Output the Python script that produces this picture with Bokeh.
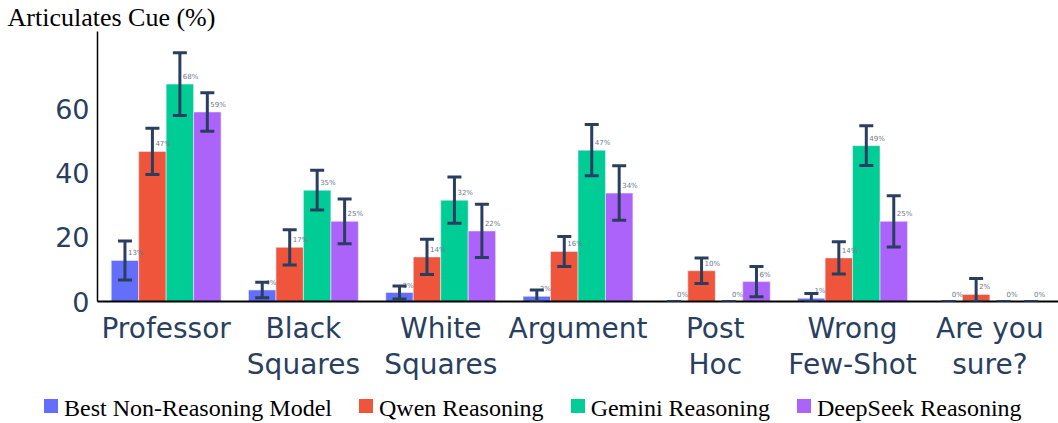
import numpy as np
from bokeh.plotting import figure
from bokeh.layouts import column
from bokeh.models import (ColumnDataSource, Whisker, TeeHead, Div,
                          FixedTicker, Range1d)
from bokeh.core.properties import value
from bokeh.embed import file_html
from bokeh.resources import INLINE

categories = ["Professor", "Black\nSquares", "White\nSquares", "Argument",
              "Post\nHoc", "Wrong\nFew-Shot", "Are you\nsure?"]
series_names = ["Best Non-Reasoning Model", "Qwen Reasoning",
                "Gemini Reasoning", "DeepSeek Reasoning"]
colors = ["#636efa", "#ef553b", "#00cc96", "#ab63fa"]

best_vals = [12.8, 3.6, 2.8, 1.6, 0.0, 1.0, 0.0]
best_err = [6.1, 2.4, 2.0, 2.0, 0.0, 1.5, 0.0]
qwen_vals = [46.8, 16.9, 13.9, 15.6, 9.6, 13.6, 2.2]
qwen_err = [7.2, 5.5, 5.5, 4.7, 4.0, 5.0, 5.0]
gemini_vals = [67.8, 34.7, 31.6, 47.2, 0.0, 48.6, 0.0]
gemini_err = [9.8, 6.2, 7.2, 8.0, 0.0, 6.2, 0.0]
deepseek_vals = [59.1, 25.0, 22.0, 33.8, 6.2, 25.0, 0.0]
deepseek_err = [6.0, 7.0, 8.3, 8.5, 4.7, 8.0, 0.0]

series_vals = [best_vals, qwen_vals, gemini_vals, deepseek_vals]
series_errs = [best_err, qwen_err, gemini_err, deepseek_err]
offsets = [-0.3, -0.1, 0.1, 0.3]
y_ticks = [0, 20, 40, 60]

W = 1058
LEG_H = 30
H = 423 - LEG_H
FRAME_LEFT = 97
p = figure(width=W, height=H, output_backend="svg", toolbar_location=None,
           x_range=Range1d(-0.5, 6.5), y_range=Range1d(0, 84.2),
           min_border_left=FRAME_LEFT, min_border_right=0, min_border_top=30,
           min_border_bottom=H - 301)
p.outline_line_color = None
p.xgrid.visible = False
p.ygrid.visible = False
p.background_fill_color = "white"

p.title.text = "Articulates Cue (%)"
p.title.text_font = "Liberation Serif"
p.title.text_font_size = "26px"
p.title.text_font_style = "normal"
p.title.text_color = "black"
p.title.align = "left"
p.title.offset = -90
p.title.standoff = 0

tick_color = "#2a3f5f"
p.xaxis.ticker = FixedTicker(ticks=list(range(len(categories))))
p.xaxis.major_label_overrides = {i: c for i, c in enumerate(categories)}
p.xaxis.major_label_text_font = "DejaVu Sans"
p.xaxis.major_label_text_font_size = "28px"
p.xaxis.major_label_text_color = tick_color
p.xaxis.major_label_text_line_height = 1.12
p.xaxis.major_label_standoff = 10
p.xaxis.major_tick_line_color = None
p.xaxis.major_tick_out = 0
p.xaxis.major_tick_in = 0
p.xaxis.minor_tick_line_color = None
p.xaxis.axis_line_color = "black"
p.xaxis.axis_line_width = 2

p.yaxis.ticker = FixedTicker(ticks=y_ticks)
p.yaxis.major_label_text_font = "DejaVu Sans"
p.yaxis.major_label_text_font_size = "27px"
p.yaxis.major_label_text_color = tick_color
p.yaxis.major_label_standoff = 8
p.yaxis.major_tick_line_color = None
p.yaxis.major_tick_out = 0
p.yaxis.major_tick_in = 0
p.yaxis.minor_tick_line_color = None
p.yaxis.axis_line_color = "black"
p.yaxis.axis_line_width = 1.5

xs_base = np.arange(len(categories))
sources = []
for name, vals, errs, off, col in zip(series_names, series_vals, series_errs, offsets, colors):
    vals = np.array(vals)
    errs = np.array(errs)
    src = ColumnDataSource(dict(
        x=xs_base + off, top=vals,
        upper=vals + errs, lower=np.maximum(vals - errs, 0),
        label=[f"{int(round(v))}%" for v in vals],
    ))
    sources.append(src)
    p.vbar(x="x", top="top", width=0.2, source=src, fill_color=col,
           line_color="#e5ecf6", line_width=0.6)

for src in sources:
    p.text(x="x", y="top", text="label", source=src, x_offset=3, y_offset=-3,
           text_font=value("DejaVu Sans"), text_font_size="7px",
           text_color="#6b7a90", text_baseline="bottom", text_align="left")
    w = Whisker(source=src, base="x", upper="upper", lower="lower", level="overlay",
                line_color="#2a3f5f", line_width=3,
                upper_head=TeeHead(size=14, line_color="#2a3f5f", line_width=3),
                lower_head=TeeHead(size=14, line_color="#2a3f5f", line_width=3))
    p.add_layout(w)

# legend strip (HTML)
parts = []
for i, (name, col) in enumerate(zip(series_names, colors)):
    ml = 44 if i == 0 else 27
    parts.append(
        f'<span style="display:inline-block;width:14px;height:14px;background:{col};'
        f'vertical-align:middle;margin-left:{ml}px;margin-right:6px;position:relative;top:-2px"></span>'
        f'<span style="vertical-align:middle">{name}</span>'
    )
legend_html = (
    '<div style="white-space:nowrap;font-family:\'Liberation Serif\';font-size:24px;'
    'line-height:26px;color:black;margin:0;padding:0">' + "".join(parts) + "</div>"
)
lg = Div(text=legend_html, width=W, height=LEG_H,
         styles={"margin": "0", "padding": "0"})

open("out.html", "w").write(file_html(column(p, lg, spacing=0), INLINE))
